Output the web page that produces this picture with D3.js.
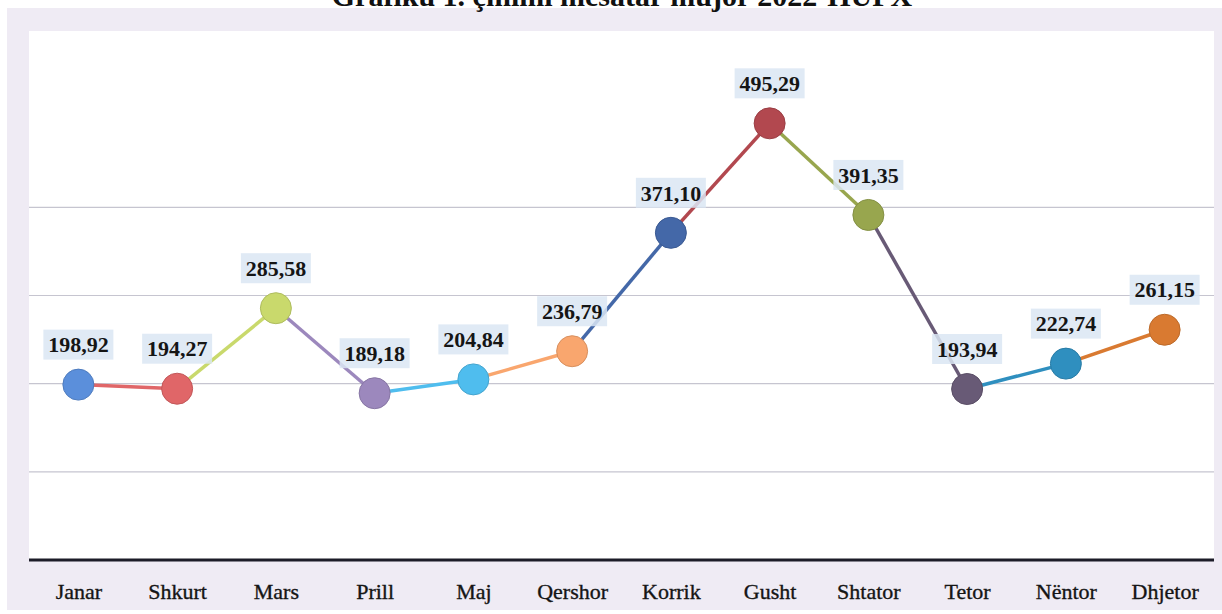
<!DOCTYPE html>
<html>
<head>
<meta charset="utf-8">
<script src="https://cdn.jsdelivr.net/npm/d3@7"></script>
<style>
  body { margin: 0; background: #fff; }
  svg { display: block; }
</style>
</head>
<body>
<div id="chart"></div>
<script>
const width = 1222;
const height = 614;

const months = ["Janar", "Shkurt", "Mars", "Prill", "Maj", "Qershor", "Korrik", "Gusht", "Shtator", "Tetor", "Nëntor", "Dhjetor"];
const prices = [198.92, 194.27, 285.58, 189.18, 204.84, 236.79, 371.10, 495.29, 391.35, 193.94, 222.74, 261.15];
const colors = ["#5b8fdb", "#e06668", "#c9d96c", "#9c88bd", "#4fbdee", "#f9a66e", "#4468a8", "#b2484f", "#98a64e", "#685a76", "#2f8fbf", "#d97a31"];
const gridTicks = [100, 200, 300, 400];
const title = "Grafiku 1. çmimi mesatar mujor 2022-HUPX";

let plot = { left: 29, right: 1214, top: 31, bottom: 560 };

const svg = d3.select("#chart").append("svg")
    .attr("width", width)
    .attr("height", height);

// lavender frame behind chart
svg.append("rect")
    .attr("x", 7).attr("y", 8)
    .attr("width", width - 7).attr("height", 602)
    .attr("fill", "#efebf4");
svg.append("rect")
    .attr("x", plot.left).attr("y", plot.top)
    .attr("width", plot.right - plot.left).attr("height", plot.bottom - plot.top)
    .attr("fill", "#ffffff");

// title, cut off at the top like the scan
svg.append("text")
    .attr("x", 622)
    .attr("y", 6)
    .attr("text-anchor", "middle")
    .attr("font-family", "Liberation Serif")
    .attr("font-weight", "bold")
    .attr("font-size", "30px")
    .attr("fill", "#111")
    .text(title);

const x = d3.scalePoint()
    .domain(months)
    .range([plot.left, plot.right])
    .padding(0.5);

const y = d3.scaleLinear()
    .domain([0, 600])
    .range([plot.bottom, plot.top]);

// gridlines
svg.append("g")
    .selectAll("line")
    .data(gridTicks)
    .join("line")
    .attr("x1", plot.left)
    .attr("x2", plot.right)
    .attr("y1", d => y(d))
    .attr("y2", d => y(d))
    .attr("stroke", "#c6c5d0")
    .attr("stroke-width", 1.2);

// x axis
const xAxis = svg.append("g")
    .attr("transform", `translate(0, ${plot.bottom})`)
    .call(d3.axisBottom(x).tickSize(0).tickPadding(23));
xAxis.select(".domain")
    .attr("d", `M${plot.left},0H${plot.right}`)
    .attr("stroke", "#1c1c28")
    .attr("stroke-width", 3);
xAxis.selectAll("text")
    .attr("font-family", "Liberation Serif")
    .attr("font-size", "22px")
    .attr("fill", "#151515")
    .attr("stroke", "#151515")
    .attr("stroke-width", 0.35);

const data = months.map((m, i) => ({ month: m, value: prices[i], color: colors[i] }));

// segments, each coloured like the point it reaches
svg.append("g")
    .selectAll("line")
    .data(data.slice(1))
    .join("line")
    .attr("x1", (d, i) => x(data[i].month))
    .attr("y1", (d, i) => y(data[i].value))
    .attr("x2", d => x(d.month))
    .attr("y2", d => y(d.value))
    .attr("stroke", d => d.color)
    .attr("stroke-width", 3.5);

svg.append("g")
    .selectAll("circle")
    .data(data)
    .join("circle")
    .attr("cx", d => x(d.month))
    .attr("cy", d => y(d.value))
    .attr("r", 15.5)
    .attr("fill", d => d.color)
    .attr("stroke", d => d3.color(d.color).darker(0.4))
    .attr("stroke-width", 1);

// value labels with pale blue boxes
const fmt = v => v.toFixed(2).replace(".", ",");
const labels = svg.append("g")
    .selectAll("g")
    .data(data)
    .join("g")
    .attr("transform", d => `translate(${x(d.month)}, ${y(d.value) - 40})`);

labels.append("rect")
    .attr("x", -35)
    .attr("y", -15)
    .attr("width", 70)
    .attr("height", 30)
    .attr("fill", "#dae6f3")
    .attr("opacity", 0.85);

labels.append("text")
    .attr("text-anchor", "middle")
    .attr("dy", "0.35em")
    .attr("font-family", "Liberation Serif")
    .attr("font-weight", "bold")
    .attr("font-size", "22px")
    .attr("fill", "#151515")
    .text(d => fmt(d.value));
</script>
</body>
</html>
